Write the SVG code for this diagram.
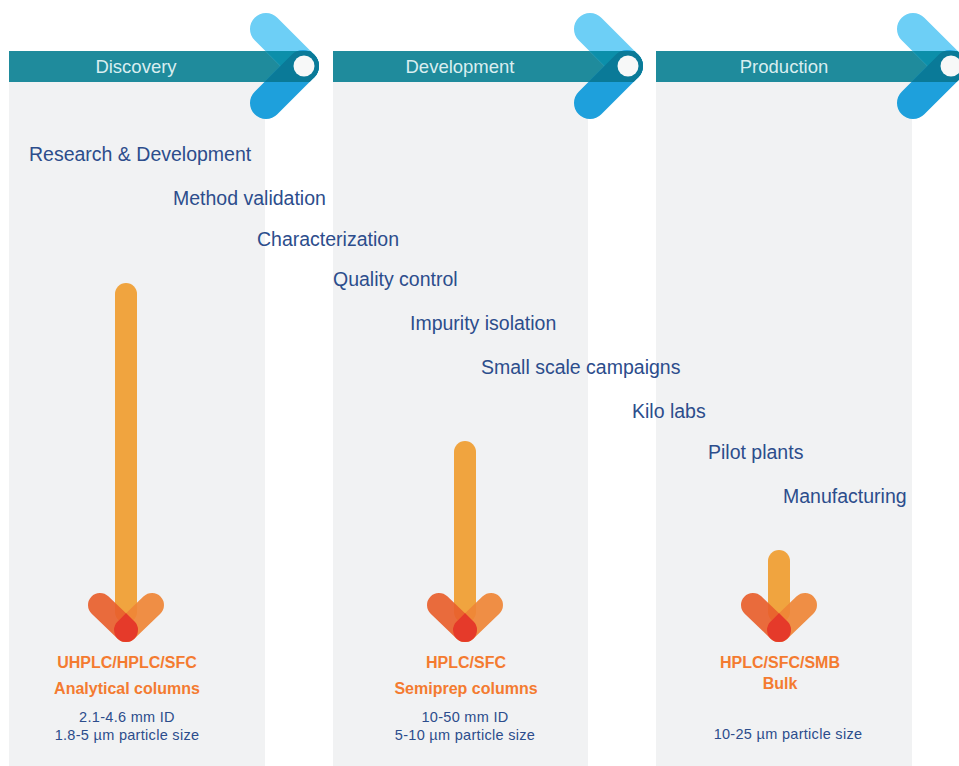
<svg xmlns="http://www.w3.org/2000/svg" width="959" height="766" viewBox="0 0 959 766">
  <defs>
    <style>
      .col { fill: #f1f2f3; }
      .band { fill: #1f8b9c; }
      .hdr { font-family: "Liberation Sans", Arial, sans-serif; font-size: 18.5px; fill: #d9eef0; text-anchor: middle; }
      .lbl { font-family: "Liberation Sans", Arial, sans-serif; font-size: 19.5px; fill: #2c4d8c; }
      .t1 { font-family: "Liberation Sans", Arial, sans-serif; font-size: 16px; font-weight: bold; fill: #f47b30; text-anchor: middle; }
      .t2 { font-family: "Liberation Sans", Arial, sans-serif; font-size: 14.5px; fill: #2c4d8c; text-anchor: middle; letter-spacing: 0.3px; }
      .armU { fill: none; stroke: #6dcff6; stroke-width: 32; stroke-linecap: round; }
      .armL { fill: none; stroke: #1ea0dc; stroke-width: 32; stroke-linecap: round; }
      .armUd { fill: none; stroke: #0c8faa; stroke-width: 32; stroke-linecap: round; }
      .armLd { fill: none; stroke: #0a7a98; stroke-width: 32; stroke-linecap: round; }
      .shaft { fill: none; stroke: #f0a43f; stroke-width: 22; stroke-linecap: round; }
      .aL { fill: none; stroke: #e8602c; stroke-width: 24; stroke-linecap: round; opacity: 0.92; }
      .aR { fill: none; stroke: #ef8636; stroke-width: 24; stroke-linecap: round; opacity: 0.92; }
      .drop { fill: #e53a2a; }
    </style>
    <clipPath id="bandClip">
      <rect x="0" y="51" width="330" height="31"/>
    </clipPath>
    <g id="chevron">
      <path class="armU" d="M266,29 L303,66"/>
      <path class="armL" d="M303,66 L266,103"/>
      <g clip-path="url(#bandClip)">
        <path class="armUd" d="M266,29 L303,66"/>
        <path class="armLd" d="M303,66 L266,103"/>
      </g>
      <circle cx="304" cy="66" r="10.5" fill="#f7f8f8"/>
    </g>
    <g id="arrowHead">
      <path class="aL" d="M-26,-25 L0,0"/>
      <path class="aR" d="M26,-25 L0,0"/>
      <path class="drop" d="M0,-17 L-8.5,-8.5 A12,12 0 1,0 8.5,-8.5 Z"/>
    </g>
  </defs>

  <rect x="0" y="0" width="959" height="766" fill="#ffffff"/>

  <g id="discovery">
    <rect class="col" x="9" y="82" width="256" height="684"/>
    <rect class="band" x="9" y="51" width="296" height="31"/>
    <use href="#chevron"/>
    <text class="hdr" x="136" y="73">Discovery</text>
  </g>

  <g id="development">
    <rect class="col" x="333" y="82" width="255" height="684"/>
    <rect class="band" x="333" y="51" width="296" height="31"/>
    <use href="#chevron" transform="translate(324,0)"/>
    <text class="hdr" x="460" y="73">Development</text>
  </g>

  <g id="production">
    <rect class="col" x="656" y="82" width="256" height="684"/>
    <rect class="band" x="656" y="51" width="296" height="31"/>
    <use href="#chevron" transform="translate(647,0)"/>
    <text class="hdr" x="784" y="73">Production</text>
  </g>

  <g id="applications">
    <text class="lbl" x="29" y="161">Research &amp; Development</text>
    <text class="lbl" x="173" y="205">Method validation</text>
    <text class="lbl" x="257" y="246">Characterization</text>
    <text class="lbl" x="333" y="286">Quality control</text>
    <text class="lbl" x="410" y="330">Impurity isolation</text>
    <text class="lbl" x="481" y="374">Small scale campaigns</text>
    <text class="lbl" x="632" y="418">Kilo labs</text>
    <text class="lbl" x="708" y="459">Pilot plants</text>
    <text class="lbl" x="783" y="503">Manufacturing</text>
  </g>

  <g id="analytical">
    <path class="shaft" d="M126,294 L126,612"/>
    <use href="#arrowHead" transform="translate(126,630)"/>
    <text class="t1" x="127" y="668">UHPLC/HPLC/SFC</text>
    <text class="t1" x="127" y="694">Analytical columns</text>
    <text class="t2" x="127" y="722">2.1-4.6 mm ID</text>
    <text class="t2" x="127" y="740">1.8-5 µm particle size</text>
  </g>

  <g id="semiprep">
    <path class="shaft" d="M465,452 L465,612"/>
    <use href="#arrowHead" transform="translate(465,630)"/>
    <text class="t1" x="466" y="668">HPLC/SFC</text>
    <text class="t1" x="466" y="694">Semiprep columns</text>
    <text class="t2" x="465" y="722">10-50 mm ID</text>
    <text class="t2" x="465" y="740">5-10 µm particle size</text>
  </g>

  <g id="bulk">
    <path class="shaft" d="M779,561 L779,612"/>
    <use href="#arrowHead" transform="translate(779,630)"/>
    <text class="t1" x="780" y="668">HPLC/SFC/SMB</text>
    <text class="t1" x="780" y="689">Bulk</text>
    <text class="t2" x="788" y="739">10-25 µm particle size</text>
  </g>
</svg>
